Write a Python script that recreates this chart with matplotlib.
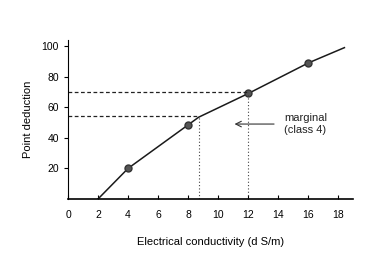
import matplotlib.pyplot as plt

plt.rcParams['font.family'] = ['Liberation Sans', 'DejaVu Sans']

# curve through the measured points
curve_x = [2, 4, 8, 8.7, 12, 16, 18.4]
curve_y = [0, 20, 48.5, 53.5, 69, 89, 99]

# marked points
pts_x = [4, 8, 12, 16]
pts_y = [20, 48.5, 69, 89]

# guide lines (x at curve, y level)
guide_x = [8.7, 12]
guide_y = [54, 70]

xticks = [0, 2, 4, 6, 8, 10, 12, 14, 16, 18]
yticks = [20, 40, 60, 80, 100]

fig = plt.figure(figsize=(3.78, 2.74), dpi=100)
ax = fig.add_axes([0.18, 0.274, 0.755, 0.58])

ax.plot(curve_x, curve_y, color='#1a1a1a', lw=1.1)
ax.plot(pts_x, pts_y, 'o', color='#555555', mec='#333333', ms=5)

for gx, gy in zip(guide_x, guide_y):
    ax.plot([0, gx], [gy, gy], color='#222222', lw=0.9, ls=(0, (3, 2)))
    ax.plot([gx, gx], [0, gy], color='#444444', lw=0.8, ls=(0, (1, 2)))

ax.annotate('', xy=(10.9, 49), xytext=(13.9, 49),
            arrowprops=dict(arrowstyle='->', color='#333333', lw=0.8))
ax.text(14.4, 53, 'marginal', fontsize=8, va='center', ha='left', color='#222222')
ax.text(14.4, 45, '(class 4)', fontsize=8, va='center', ha='left', color='#222222')

ax.set_xlim(0, 19)
ax.set_ylim(0, 104)
ax.set_xticks(xticks)
ax.set_yticks(yticks)
ax.tick_params(axis='x', direction='in', length=3, labelsize=7.5, pad=8)
ax.tick_params(axis='y', direction='out', length=3, labelsize=7.5)
ax.spines['top'].set_visible(False)
ax.spines['right'].set_visible(False)
ax.spines['bottom'].set_linewidth(1.2)
ax.set_xlabel('Electrical conductivity (d S/m)', fontsize=8, labelpad=12)
ax.set_ylabel('Point deduction', fontsize=8, labelpad=6)

fig.savefig('out.png', dpi=100)
